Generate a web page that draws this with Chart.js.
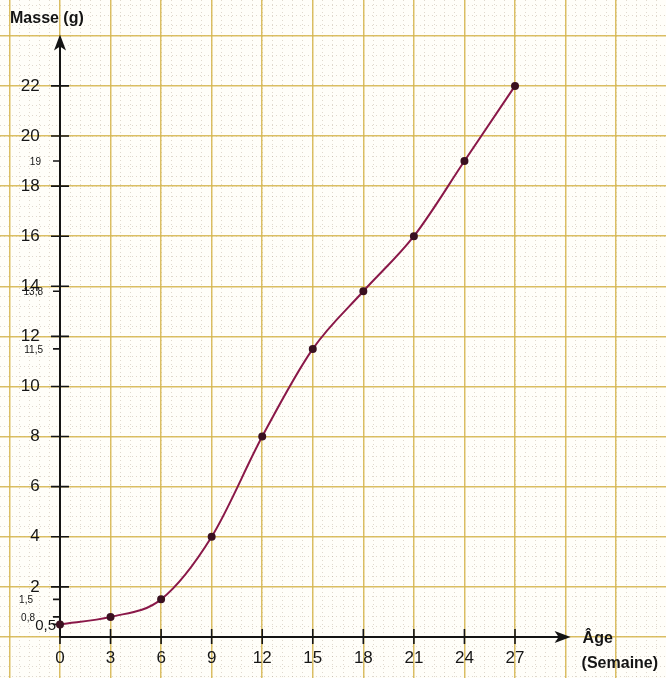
<!DOCTYPE html>
<html lang="fr">
<head>
<meta charset="UTF-8">
<script src="https://cdn.jsdelivr.net/npm/chart.js"></script>
<title>Masse en fonction de l'âge</title>
<style>
    body { margin: 0; background: #fffef9; }
    #cadre { width: 666px; height: 678px; position: relative; }
</style>
</head>
<body>
<div id="cadre"><canvas id="graphique"></canvas></div>

<script>
    // données
    const ages = [0, 3, 6, 9, 12, 15, 18, 21, 24, 27];
    const masses = [0.5, 0.8, 1.5, 4, 8, 11.5, 13.8, 16, 19, 22];

    // graduations
    const xTicks = [0, 3, 6, 9, 12, 15, 18, 21, 24, 27];
    const yTicks = [2, 4, 6, 8, 10, 12, 14, 16, 18, 20, 22];

    // valeurs reportées sur l'axe des masses
    const petitesValeurs = [19, 13.8, 11.5, 1.5, 0.8, 0.5];
    const petitesEtiquettes = ['19', '13,8', '11,5', '1,5', '0,8', '0,5'];

    const X_MIN = -3.56, X_MAX = 35.96;
    const Y_MIN = -1.64, Y_MAX = 25.43;

    function serie(debut, fin, pas) {
        let t = [];
        for (let v = debut; v <= fin + 1e-9; v += pas) t.push({ value: Math.round(v * 100) / 100 });
        return t;
    }

    function sansMarge(scale) {
        scale.paddingTop = 0; scale.paddingBottom = 0;
        scale.paddingLeft = 0; scale.paddingRight = 0;
    }

    const couleurGrille = 'rgba(214,182,78,0.88)';
    const couleurFine = 'rgba(165,150,125,0.35)';

    // décalage (en px) des petites étiquettes à gauche de l'axe
    const decalages = { '19': 19, '13,8': 17, '11,5': 17, '1,5': 27, '0,8': 25, '0,5': 4 };

    // axes fléchés, petites graduations, titres
    const axesPlugin = {
        id: 'axes',
        beforeDatasetsDraw(chart) {
            const ctx = chart.ctx;
            const x = chart.scales.x, y = chart.scales.y;
            const x0 = x.getPixelForValue(0), y0 = y.getPixelForValue(0);
            const yTop = y.getPixelForValue(24.05);
            const xEnd = x.getPixelForValue(30.3);
            ctx.save();
            ctx.strokeStyle = '#141414';
            ctx.fillStyle = '#141414';
            ctx.lineWidth = 2;

            ctx.beginPath();
            ctx.moveTo(x0, y0);
            ctx.lineTo(x0, yTop + 10);
            ctx.moveTo(x0, y0);
            ctx.lineTo(xEnd - 10, y0);
            ctx.stroke();

            // pointes de flèche
            ctx.beginPath();
            ctx.moveTo(x0, yTop);
            ctx.lineTo(x0 - 6, yTop + 16);
            ctx.lineTo(x0, yTop + 12);
            ctx.lineTo(x0 + 6, yTop + 16);
            ctx.closePath();
            ctx.fill();
            ctx.beginPath();
            ctx.moveTo(xEnd, y0);
            ctx.lineTo(xEnd - 16, y0 - 6);
            ctx.lineTo(xEnd - 12, y0);
            ctx.lineTo(xEnd - 16, y0 + 6);
            ctx.closePath();
            ctx.fill();

            // graduations
            ctx.lineWidth = 1.6;
            ctx.beginPath();
            xTicks.forEach(v => {
                const px = x.getPixelForValue(v);
                ctx.moveTo(px, y0 - 8);
                ctx.lineTo(px, y0 + 7);
            });
            yTicks.forEach(v => {
                const py = y.getPixelForValue(v);
                ctx.moveTo(x0 - 9, py);
                ctx.lineTo(x0 + 9, py);
            });
            petitesValeurs.forEach(v => {
                const py = y.getPixelForValue(v);
                ctx.moveTo(x0 - 7, py);
                ctx.lineTo(x0, py);
            });
            ctx.stroke();

            // valeurs reportées
            ctx.textAlign = 'right';
            ctx.textBaseline = 'middle';
            petitesValeurs.forEach((v, i) => {
                const py = y.getPixelForValue(v);
                const txt = petitesEtiquettes[i];
                ctx.font = txt === '0,5' ? '15px "Liberation Sans"' : '10px "Liberation Sans"';
                ctx.fillText(txt, x0 - decalages[txt], py + 1);
            });

            // titres des axes
            ctx.textAlign = 'left';
            ctx.textBaseline = 'alphabetic';
            ctx.font = 'bold 16px "Liberation Sans"';
            ctx.fillText('Masse (g)', 10, 23);
            ctx.fillText('Âge', xEnd + 12, y0 + 6);
            ctx.fillText('(Semaine)', xEnd + 11, y0 + 31);
            ctx.restore();
        }
    };

    const config = {
        type: 'scatter',
        data: {
            datasets: [{
                label: 'Masse',
                data: ages.map((a, i) => ({ x: a, y: masses[i] })),
                showLine: true,
                cubicInterpolationMode: 'monotone',
                borderColor: '#8a1848',
                borderWidth: 2,
                pointRadius: 3,
                pointBackgroundColor: '#3a1020',
                pointBorderColor: '#3a1020'
            }]
        },
        options: {
            responsive: true,
            maintainAspectRatio: false,
            animation: false,
            layout: { padding: 0, autoPadding: false },
            plugins: { legend: { display: false }, tooltip: { enabled: false } },
            scales: {
                xm: {
                    type: 'linear', axis: 'x', min: X_MIN, max: X_MAX,
                    position: { y: 0 },
                    afterBuildTicks: s => { s.ticks = serie(-3.6, 36, 0.6); },
                    afterFit: sansMarge,
                    ticks: { display: false },
                    grid: { color: couleurFine, lineWidth: 1, drawTicks: false, z: -2 },
                    border: { display: false, dash: [1, 3] }
                },
                ym: {
                    type: 'linear', axis: 'y', min: Y_MIN, max: Y_MAX,
                    position: { x: 0 },
                    afterBuildTicks: s => { s.ticks = serie(-1.6, 25.6, 0.4); },
                    afterFit: sansMarge,
                    ticks: { display: false },
                    grid: { color: couleurFine, lineWidth: 1, drawTicks: false, z: -2 },
                    border: { display: false, dash: [1, 3] }
                },
                x: {
                    type: 'linear', min: X_MIN, max: X_MAX,
                    position: { y: 0 },
                    afterBuildTicks: s => { s.ticks = serie(-3, 33, 3); },
                    afterFit: sansMarge,
                    ticks: {
                        padding: 11,
                        color: '#161616',
                        font: { family: 'Liberation Sans', size: 17 },
                        callback: v => xTicks.includes(v) ? String(v) : ''
                    },
                    grid: { color: couleurGrille, lineWidth: 1.5, drawTicks: false },
                    border: { display: false }
                },
                y: {
                    type: 'linear', min: Y_MIN, max: Y_MAX,
                    // les étiquettes se terminent un peu à gauche de l'axe
                    position: { x: -1.2 },
                    afterBuildTicks: s => { s.ticks = serie(0, 24, 2); },
                    afterFit: sansMarge,
                    ticks: {
                        color: '#161616',
                        font: { family: 'Liberation Sans', size: 17 },
                        callback: v => yTicks.includes(v) ? String(v) : ''
                    },
                    grid: { color: couleurGrille, lineWidth: 1.5, drawTicks: false },
                    border: { display: false }
                }
            }
        },
        plugins: [axesPlugin]
    };

    new Chart(document.getElementById('graphique'), config);
</script>
</body>
</html>
